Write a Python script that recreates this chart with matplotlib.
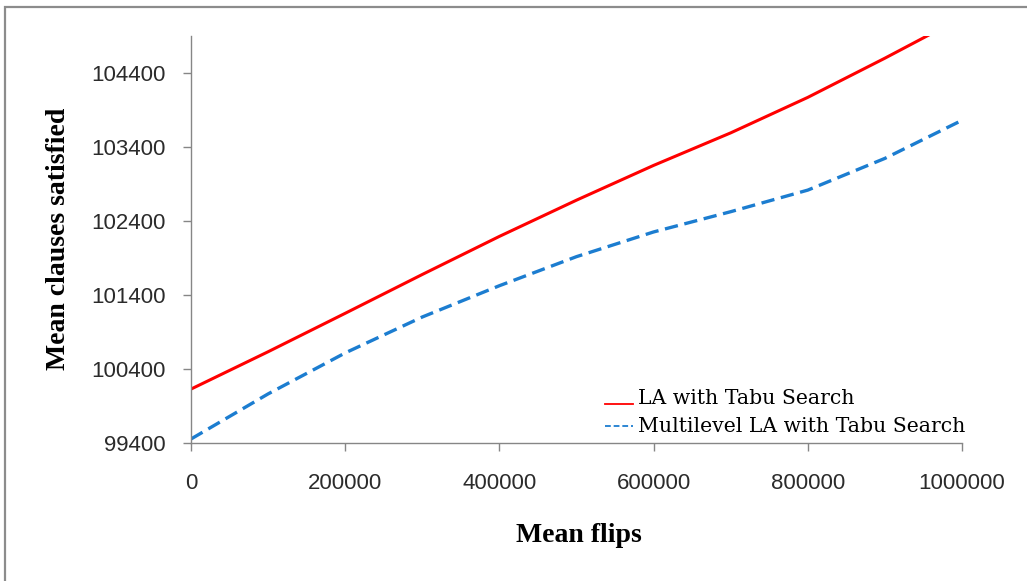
import matplotlib
matplotlib.use("Agg")
import matplotlib.pyplot as plt
import numpy as np
from matplotlib.lines import Line2D
from matplotlib.patches import Rectangle
from matplotlib.legend_handler import HandlerLine2D

# ---- data -------------------------------------------------------------
flips = [0, 100000, 200000, 300000, 400000, 500000,
         600000, 700000, 800000, 900000, 1000000]
la_tabu = [100125, 100630, 101150, 101675, 102190, 102680,
           103150, 103590, 104070, 104600, 105150]
ml_la_tabu = [99450, 100060, 100614, 101100, 101523, 101916,
              102250, 102524, 102816, 103245, 103760]

series_labels = ["LA with Tabu Search", "Multilevel LA with Tabu Search"]
x_ticks = [0, 200000, 400000, 600000, 800000, 1000000]
x_tick_labels = ["0", "200000", "400000", "600000", "800000", "1000000"]
y_ticks = [99400, 100400, 101400, 102400, 103400, 104400]
y_tick_labels = ["99400", "100400", "101400", "102400", "103400", "104400"]

RED = "#ff0000"
BLUE = "#1c7dd0"
GREY = "#868686"

W, H = 1027, 581
fig = plt.figure(figsize=(W / 100, H / 100), dpi=100)
fig.patch.set_facecolor("white")

# outer chart-area border (runs off the right and bottom edges)
fig.add_artist(Rectangle((5 / W, -0.2), 1.5, 1.2 - 7 / H,
                         transform=fig.transFigure, fill=False,
                         edgecolor="#8c8c8c", linewidth=1.6))

ax = fig.add_axes([191 / W, 1 - 442.7 / H, 771 / W, (442.7 - 36) / H])

ax.plot(flips, la_tabu, color=RED, linewidth=2.2, solid_capstyle="round")
ax.plot(flips, ml_la_tabu, color=BLUE, linewidth=2.4,
        dashes=(4.0, 2.0), dash_capstyle="butt")

ax.set_xlim(0, 1000000)
ax.set_ylim(99400, 104900)
ax.set_xticks(x_ticks)
ax.set_xticklabels(x_tick_labels)
ax.set_yticks(y_ticks)
ax.set_yticklabels(y_tick_labels)

for side in ("top", "right"):
    ax.spines[side].set_visible(False)
for side in ("left", "bottom"):
    ax.spines[side].set_color(GREY)
    ax.spines[side].set_linewidth(1.0)

tick_font = {"family": "Liberation Sans", "size": 16}
ax.tick_params(axis="both", direction="out", length=6, width=1.0,
               color=GREY, labelcolor="#2b2b2b")
ax.tick_params(axis="y", pad=12)
ax.tick_params(axis="x", pad=16)
for lab in ax.get_xticklabels() + ax.get_yticklabels():
    lab.set_fontfamily(tick_font["family"])
    lab.set_fontsize(tick_font["size"])

label_font = dict(fontfamily="Liberation Serif", fontweight="bold",
                  fontsize=20, color="#000000")
ax.set_xlabel("Mean flips", va="baseline", **label_font)
ax.xaxis.set_label_coords(579 / W, 1 - 542 / H, transform=fig.transFigure)
ax.set_ylabel("Mean clauses satisfied", va="center", **label_font)
ax.yaxis.set_label_coords(59 / W, 1 - 239 / H, transform=fig.transFigure)


class OffsetLineHandler(HandlerLine2D):
    """Legend line shifted vertically by a fixed number of points."""

    def __init__(self, dy=0.0, **kw):
        super().__init__(**kw)
        self.dy = dy

    def create_artists(self, legend, orig_handle, xdescent, ydescent,
                       width, height, fontsize, trans):
        artists = super().create_artists(legend, orig_handle, xdescent,
                                         ydescent, width, height, fontsize,
                                         trans)
        for a in artists:
            if hasattr(a, "get_ydata"):
                a.set_ydata(np.asarray(a.get_ydata(), dtype=float) + self.dy)
        return artists


legend_handles = [
    Line2D([], [], color=RED, linewidth=1.3),
    Line2D([], [], color=BLUE, linewidth=1.3, dashes=(3.2, 1.6)),
]
ax.legend(legend_handles, series_labels, loc="upper left",
          bbox_to_anchor=(605 / W, 1 - 389 / H),
          bbox_transform=fig.transFigure, frameon=False,
          borderpad=0, borderaxespad=0, handlelength=1.35,
          handletextpad=0.25, labelspacing=0.42,
          prop={"family": "DejaVu Serif", "size": 14.7},
          handler_map={legend_handles[0]: OffsetLineHandler(dy=-5.5),
                       legend_handles[1]: OffsetLineHandler(dy=-1.0)})

fig.savefig("out.png", dpi=100, facecolor="white")
